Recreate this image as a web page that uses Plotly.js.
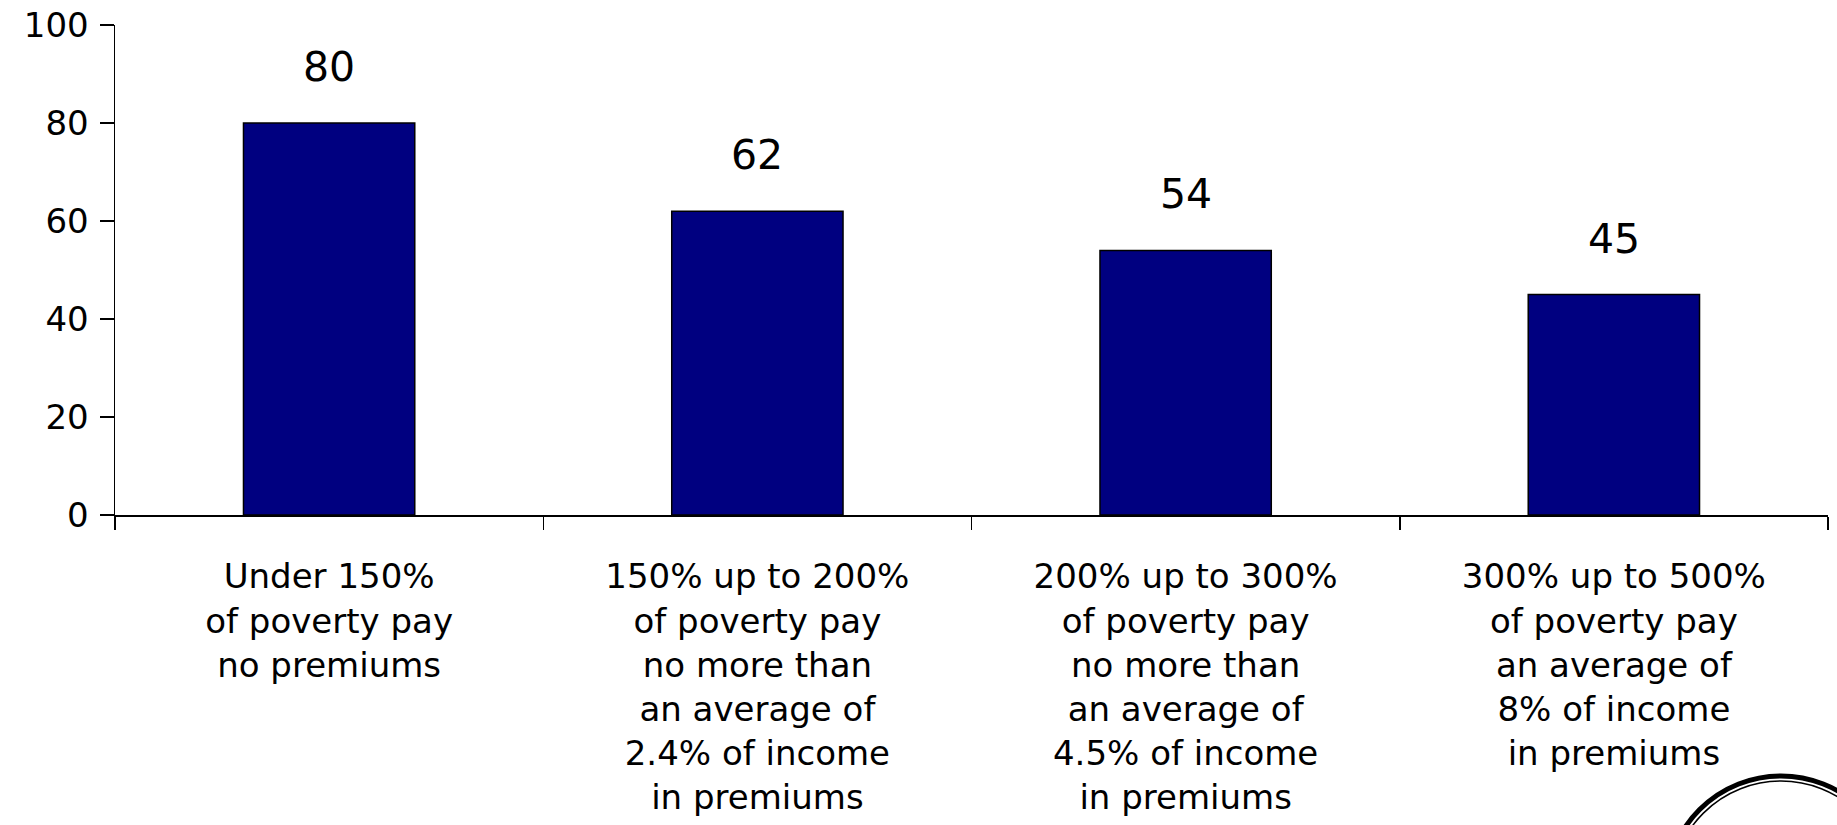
<!DOCTYPE html>
<html>
<head>
<meta charset="utf-8">
<script src="https://cdn.plot.ly/plotly-3.0.1.min.js"></script>
<style>html,body{margin:0;padding:0;background:#fff;}#chart{width:1837px;height:825px;}</style>
</head>
<body>
<div id="chart"></div>
<script>
const categories = ["c1", "c2", "c3", "c4"];
const categoryLabels = [
  "Under 150%<br>of poverty pay<br>no premiums",
  "150% up to 200%<br>of poverty pay<br>no more than<br>an average of<br>2.4% of income<br>in premiums",
  "200% up to 300%<br>of poverty pay<br>no more than<br>an average of<br>4.5% of income<br>in premiums",
  "300% up to 500%<br>of poverty pay<br>an average of<br>8% of income<br>in premiums"
];
const values = [80, 62, 54, 45];
const yTicks = [0, 20, 40, 60, 80, 100];

const FONT = "DejaVu Sans, sans-serif";

const trace = {
  type: "bar",
  x: categories,
  y: values,
  marker: { color: "#000080", line: { color: "#000000", width: 1.5 } },
  hoverinfo: "none"
};

const annotations = categories.map((c, i) => ({
  x: c, y: values[i], xref: "x", yref: "y",
  text: String(values[i]), showarrow: false,
  yanchor: "middle", yshift: 56,
  font: { family: FONT, size: 41, color: "#000" }
}));

const layout = {
  width: 1837, height: 825,
  margin: { l: 115, r: 9, t: 25, b: 310 },
  paper_bgcolor: "#fff", plot_bgcolor: "#fff",
  showlegend: false,
  bargap: 0.6,
  font: { family: FONT, color: "#000" },
  xaxis: {
    type: "category",
    tickvals: categories,
    ticktext: categoryLabels,
    tickson: "boundaries",
    ticks: "outside", ticklen: 13, tickwidth: 1.5, tickcolor: "#000",
    showline: true, linecolor: "#000", linewidth: 1.5,
    showgrid: false, zeroline: false,
    ticklabelstandoff: 31,
    tickfont: { family: FONT, size: 34, color: "#000" },
    fixedrange: true
  },
  yaxis: {
    range: [0, 100],
    tickvals: yTicks,
    ticks: "outside", ticklen: 14, tickwidth: 1.5, tickcolor: "#000",
    showline: true, linecolor: "#000", linewidth: 1.5,
    showgrid: false, zeroline: false,
    ticklabelstandoff: 4,
    tickfont: { family: FONT, size: 34, color: "#000" },
    fixedrange: true
  },
  annotations: annotations,
  shapes: [
    { type: "circle", xref: "paper", yref: "paper",
      x0: 0.9054, x1: 1.0397, y0: -1.001, y1: -0.5326,
      line: { color: "#000", width: 5 } },
    { type: "circle", xref: "paper", yref: "paper",
      x0: 0.9085, x1: 1.0366, y0: -0.990, y1: -0.543,
      line: { color: "#000", width: 1.5 } }
  ]
};

Plotly.newPlot("chart", [trace], layout, { displayModeBar: false, staticPlot: true });
</script>
</body>
</html>
